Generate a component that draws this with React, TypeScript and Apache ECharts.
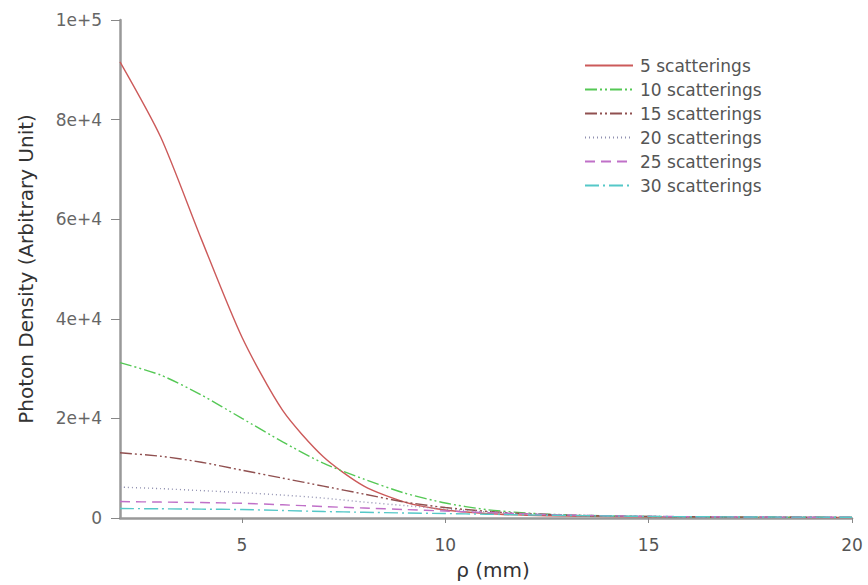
import React, { useEffect, useRef } from "react";
import * as echarts from "echarts";

const rho = [2, 3, 4, 5, 6, 7, 8, 9, 10, 11, 12, 13, 14, 15, 16, 17, 18, 19, 20];
const s5 = [91600, 76500, 56000, 36300, 21600, 12300, 6400, 3200, 1600, 900, 550, 380, 280, 220, 180, 150, 130, 110, 100];
const s10 = [31200, 28700, 24700, 20000, 15300, 11000, 7800, 5000, 3000, 1700, 1000, 620, 420, 310, 240, 190, 160, 140, 120];
const s15 = [13100, 12400, 11200, 9600, 8000, 6400, 4800, 3200, 2100, 1350, 850, 560, 400, 300, 240, 190, 160, 140, 120];
const s20 = [6200, 5900, 5500, 5100, 4600, 4000, 3200, 2500, 1800, 1250, 850, 600, 430, 320, 250, 200, 170, 150, 130];
const s25 = [3300, 3200, 3100, 2950, 2650, 2300, 2000, 1700, 1400, 1100, 820, 600, 450, 340, 270, 220, 180, 160, 140];
const s30 = [1900, 1850, 1780, 1700, 1500, 1300, 1150, 1000, 900, 760, 620, 500, 400, 320, 260, 220, 190, 170, 150];

const names = ["5 scatterings", "10 scatterings", "15 scatterings", "20 scatterings", "25 scatterings", "30 scatterings"];
const seriesData = [s5, s10, s15, s20, s25, s30];
const xTicks = [5, 10, 15, 20];
const colors = ["#cc5a5a", "#55c855", "#905050", "#9090b0", "#c070c8", "#55c8c8"];
const dashes: any[] = ["solid", [12, 3, 2, 3, 2, 3], [12, 3, 2, 3, 2, 3], [1, 3], [10, 6], [14, 4, 2, 4]];

const FONT = "DejaVu Sans, Liberation Sans, Arial, sans-serif";

export default function App() {
  const ref = useRef<HTMLDivElement>(null);
  useEffect(() => {
    const chart = echarts.init(ref.current!, null, { renderer: "svg" });
    const fmt = (v: number) => {
      if (v === 0) return "0";
      const e = Math.floor(Math.log10(v));
      const m = Math.round(v / Math.pow(10, e));
      return `${m}e+${e}`;
    };
    chart.setOption({
      animation: false,
      backgroundColor: "#ffffff",
      textStyle: { fontFamily: FONT },
      grid: { left: 120, right: 16, top: 20, bottom: 67 },
      legend: {
        orient: "vertical",
        left: 579,
        top: 52,
        itemWidth: 48,
        itemHeight: 14,
        itemGap: 7,
        itemStyle: { opacity: 0 },
        textStyle: { color: "#555", fontSize: 17, fontFamily: FONT, padding: [0, 0, 0, 2] },
        data: names,
      },
      xAxis: {
        type: "value",
        min: 2,
        max: 20,
        name: "ρ (mm)",
        nameLocation: "middle",
        nameGap: 42,
        nameTextStyle: { color: "#333", fontSize: 20, fontFamily: FONT, padding: [0, 0, 0, 14] },
        axisLine: { onZero: false, lineStyle: { color: "#999", width: 2.5 } },
        axisTick: { show: true, length: 5, customValues: xTicks, lineStyle: { color: "#888" } },
        axisLabel: { customValues: xTicks, color: "#555", fontSize: 17, margin: 18 },
        splitLine: { show: false },
      },
      yAxis: {
        type: "value",
        min: 0,
        max: 100000,
        interval: 20000,
        name: "Photon Density (Arbitrary Unit)",
        nameLocation: "middle",
        nameGap: 84,
        nameTextStyle: { color: "#333", fontSize: 20, fontFamily: FONT },
        axisLine: { show: true, lineStyle: { color: "#999", width: 2.5 } },
        axisTick: { show: true, length: 9, lineStyle: { color: "#888" } },
        axisLabel: { color: "#666", fontSize: 17, margin: 18, formatter: fmt },
        splitLine: { show: false },
      },
      series: names.map((n, i) => ({
        name: n,
        type: "line",
        smooth: 0.25,
        symbol: "none",
        data: rho.map((x, j) => [x, seriesData[i][j]]),
        lineStyle: { color: colors[i], width: 1.4, type: dashes[i] },
        itemStyle: { color: colors[i] },
      })),
    });
    return () => chart.dispose();
  }, []);
  return <div ref={ref} style={{ position: "absolute", left: 0, top: 0, width: 868, height: 585 }} />;
}
